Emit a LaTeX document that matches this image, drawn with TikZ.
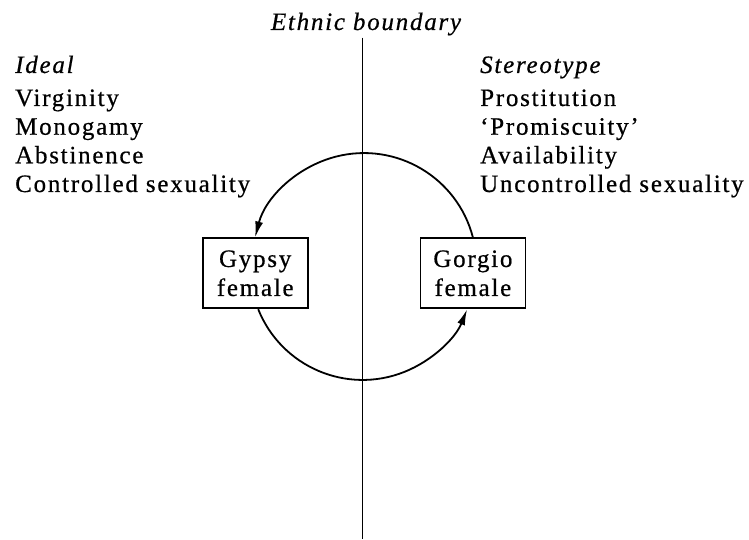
\documentclass[tikz,border=0pt]{standalone}
\usepackage{fontspec}
\setmainfont[LetterSpace=7,FakeBold=0.6]{Liberation Serif}
\usetikzlibrary{arrows.meta}

\tikzset{
  txt/.style={anchor=base west,inner sep=0pt,font=\fontsize{25}{29}\selectfont},
  head/.style={txt,font=\fontsize{25}{29}\selectfont\itshape},
  sexbox/.style={draw,line width=1.8pt,minimum width=105pt,minimum height=70pt,
    inner sep=0pt,align=center,font=\fontsize{25}{29}\selectfont},
  cycle/.style={line width=1.8pt,-{Latex[length=16pt,width=8pt]}}
}

\begin{document}
\begin{tikzpicture}[x=1pt,y=1pt]
\def\lx{15}
\def\rx{480}
\useasboundingbox (0,0) rectangle (749,539);

% boundary
\node[head,anchor=base,inner sep=2pt] (eb) at (366,509) {Ethnic boundary};
\coordinate (bot) at (362.5,0);
\draw[line width=1.6pt] (eb.south -| bot) -- (bot);

% left column
\node[head] (ideal) at (\lx,466) {Ideal};
\node[txt] (l1) at (\lx,433) {Virginity};
\node[txt] (l2) at (\lx,404.3) {Monogamy};
\node[txt] (l3) at (\lx,375.7) {Abstinence};
\node[txt] (l4) at (\lx,347) {Controlled sexuality};

% right column
\node[head] (stereo) at (\rx,466) {Stereotype};
\node[txt] (r1) at (\rx,433) {Prostitution};
\node[txt] (r2) at (\rx,404.3) {`Promiscuity'};
\node[txt] (r3) at (\rx,375.7) {Availability};
\node[txt] (r4) at (\rx,347) {Uncontrolled sexuality};

% the two females
\node[sexbox] (gypsy) at (255.2,265.7) {Gypsy\\female};
\node[sexbox] (gorgio) at (472.9,265.7) {Gorgio\\female};

% cycle
\draw[cycle] (gorgio.north) arc[start angle=14.5,end angle=165.5,radius=112.5];
\draw[cycle] ([xshift=3pt]gypsy.south) arc[start angle=201.8,end angle=338.2,radius=112.5];
\end{tikzpicture}
\end{document}
